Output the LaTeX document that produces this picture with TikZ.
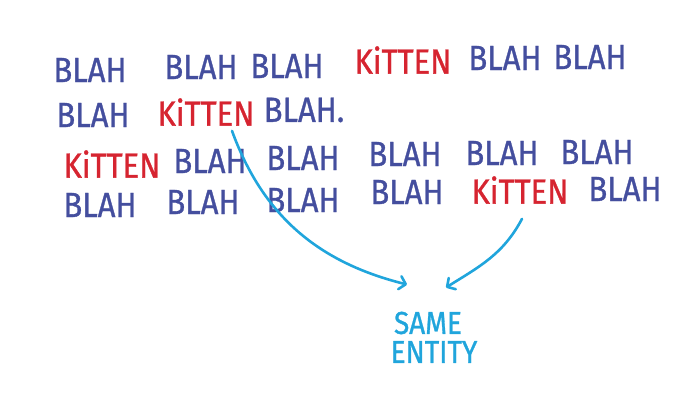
\documentclass[tikz,border=0pt]{standalone}
\usepackage{fontspec}
\setmainfont{Fira Sans}[BoldFont=Fira Sans,BoldFeatures={FakeBold=1.0}]
\usepackage{tikz}
\usepackage{xcolor}
\usetikzlibrary{arrows.meta}
\definecolor{blahblue}{RGB}{68,78,158}
\definecolor{kitred}{RGB}{214,36,48}
\definecolor{linkcyan}{RGB}{32,165,220}
\newcommand{\marker}[1]{\scalebox{1}[1.13]{\bfseries #1}}
\tikzset{%
  tipC/.tip={Straight Barb[angle=95:9pt,round]},
  blah/.style={inner sep=1pt,text=blahblue,font=\fontsize{31}{31}\selectfont},
  kitten/.style={inner sep=1pt,text=kitred,font=\fontsize{31}{31}\selectfont},
  entity/.style={inner sep=1pt,text=linkcyan,font=\fontsize{28}{28}\selectfont},
  link/.style={linkcyan,line width=2.6pt,line cap=round,-tipC}
}

\begin{document}
\begin{tikzpicture}[x=1pt,y=1pt]
\useasboundingbox (0,0) rectangle (691,-407);
% first line
\node[blah] (b11) at (90,-70) {\marker{BLAH}};
\node[blah] (b12) at (201,-67) {\marker{BLAH}};
\node[blah] (b13) at (287,-66) {\marker{BLAH}};
\node[kitten] (k1) at (403,-60) {\marker{KiTTEN}};
\node[blah] (b14) at (505,-58) {\marker{BLAH}};
\node[blah] (b15) at (590,-57) {\marker{BLAH}};
% second line
\node[blah] (b21) at (93,-115) {\marker{BLAH}};
\node[kitten] (k2) at (206,-112) {\marker{KiTTEN}};
\node[blah] (b22) at (304,-110) {\marker{BLAH.}};
% third line
\node[kitten] (k3) at (112,-164) {\marker{KiTTEN}};
\foreach \nm/\xx/\yy in {b31/210/161,b32/303/158,b33/405/154,b34/502/153,b35/597/152}
  \node[blah] (\nm) at (\xx,-\yy) {\marker{BLAH}};
% fourth line
\foreach \nm/\xx/\yy in {b41/100/205,b42/203/202,b43/303/200,b44/407/192,b45/625/189}
  \node[blah] (\nm) at (\xx,-\yy) {\marker{BLAH}};
\node[kitten] (k4) at (520,-190) {\marker{KiTTEN}};
% the entity
\node[entity] (same) at (428,-323) {\marker{SAME}};
\node[entity] (ent) at (434,-352) {\marker{ENTITY}};
\draw[link] ([xshift=26pt,yshift=-4pt]k2.south) to[out=-70,in=166] ([xshift=-21pt,yshift=26pt]same.north);
\draw[link] ([xshift=2pt,yshift=-14pt]k4.south) to[out=-118,in=32] ([xshift=18pt,yshift=23pt]same.north);
\end{tikzpicture}
\end{document}
